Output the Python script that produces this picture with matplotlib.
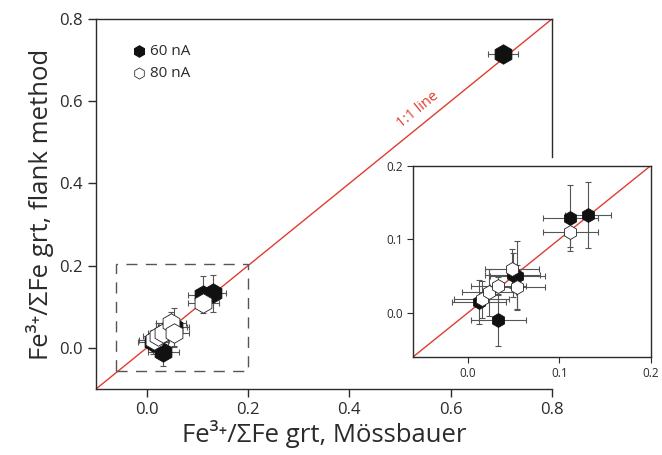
import numpy as np
import matplotlib.pyplot as plt
from matplotlib.patches import Rectangle

plt.rcParams['font.family'] = ['Open Sans', 'DejaVu Sans']

# 60 nA (filled)
fe60_x = [0.012, 0.033, 0.049, 0.054, 0.112, 0.131, 0.703]
fe60_y = [0.014, -0.010, 0.051, 0.050, 0.129, 0.133, 0.715]
fe60_xerr = [0.030, 0.030, 0.030, 0.030, 0.030, 0.025, 0.030]
fe60_yerr = [0.030, 0.035, 0.030, 0.047, 0.045, 0.045, 0.008]
# 80 nA (open)
fe80_x = [0.015, 0.023, 0.033, 0.048, 0.054, 0.112]
fe80_y = [0.018, 0.028, 0.036, 0.060, 0.035, 0.110]
fe80_xerr = [0.030, 0.030, 0.030, 0.030, 0.030, 0.030]
fe80_yerr = [0.025, 0.032, 0.012, 0.027, 0.030, 0.020]

main_ticks = [0.0, 0.2, 0.4, 0.6, 0.8]
inset_ticks = [0.0, 0.1, 0.2]

dark = '#2b2b2b'
red = '#e03c31'
ebar = '#555555'

fig = plt.figure(figsize=(6.62, 4.55), dpi=100)
ax = fig.add_axes([96/662, 1 - 389/455, 456/662, 370/455])

def draw_points(a, ms, lw_cap):
    a.errorbar(fe80_x, fe80_y, xerr=fe80_xerr, yerr=fe80_yerr, fmt='none',
               ecolor=ebar, elinewidth=0.8, capsize=lw_cap, capthick=0.8, zorder=2)
    a.errorbar(fe60_x, fe60_y, xerr=fe60_xerr, yerr=fe60_yerr, fmt='none',
               ecolor=ebar, elinewidth=0.8, capsize=lw_cap, capthick=0.8, zorder=2)
    a.plot(fe60_x, fe60_y, 'h', ms=ms, mfc='#111111', mec='#111111', mew=0.6, zorder=3)
    a.plot(fe80_x, fe80_y, 'h', ms=ms, mfc='white', mec='#222222', mew=0.6, zorder=4)

ax.plot([-0.1, 0.8], [-0.1, 0.8], color=red, lw=1, zorder=1)
draw_points(ax, 14, 2.5)
ax.add_patch(Rectangle((-0.06, -0.055), 0.26, 0.26, fill=False, ec='#555555',
                       lw=1, ls=(0, (8, 6)), zorder=1))
ax.text(0.535, 0.578, '1:1 line', color=red, fontsize=10.5, rotation=39,
        ha='center', va='center')

ax.set_xlim(-0.1, 0.8)
ax.set_ylim(-0.1, 0.8)
ax.set_xticks(main_ticks)
ax.set_yticks(main_ticks)
ax.set_xticklabels([f'{t:.1f}' for t in main_ticks])
ax.set_yticklabels([f'{t:.1f}' for t in main_ticks])
for s in ax.spines.values():
    s.set_color(dark)
    s.set_linewidth(1)
ax.spines['right'].set_bounds(0.464, 0.8)
ax.tick_params(colors=dark, labelsize=12, length=6, width=1, direction='out')
ax.tick_params(top=False, right=False)
ax.set_xlabel('Fe\u00b3\u207a/\u03a3Fe grt, M\u00f6ssbauer', fontsize=18.5, color=dark, labelpad=1)
ax.set_ylabel('Fe\u00b3\u207a/\u03a3Fe grt, flank method', fontsize=18.5, color=dark, labelpad=4)

# legend
ax.plot([-0.015], [0.722], 'h', ms=8, mfc='#111111', mec='#111111')
ax.plot([-0.015], [0.668], 'h', ms=8, mfc='white', mec='#333333', mew=0.6)
ax.text(0.006, 0.722, '60 nA', fontsize=11, va='center', color=dark)
ax.text(0.006, 0.668, '80 nA', fontsize=11, va='center', color=dark)

# inset
ins = fig.add_axes([413.3/662, 1 - 356.7/455, 237.4/662, 191/455])
ins.plot([-0.06, 0.2], [-0.06, 0.2], color=red, lw=1, zorder=1)
draw_points(ins, 10, 2)
ins.set_xlim(-0.06, 0.2)
ins.set_ylim(-0.06, 0.2)
ins.set_xticks(inset_ticks)
ins.set_yticks(inset_ticks)
ins.set_xticklabels([f'{t:.1f}' for t in inset_ticks])
ins.set_yticklabels([f'{t:.1f}' for t in inset_ticks])
for s in ins.spines.values():
    s.set_color(dark)
    s.set_linewidth(1)
ins.tick_params(colors=dark, labelsize=8.5, length=4, width=0.8, direction='out')

fig.savefig('out.png', dpi=100)
